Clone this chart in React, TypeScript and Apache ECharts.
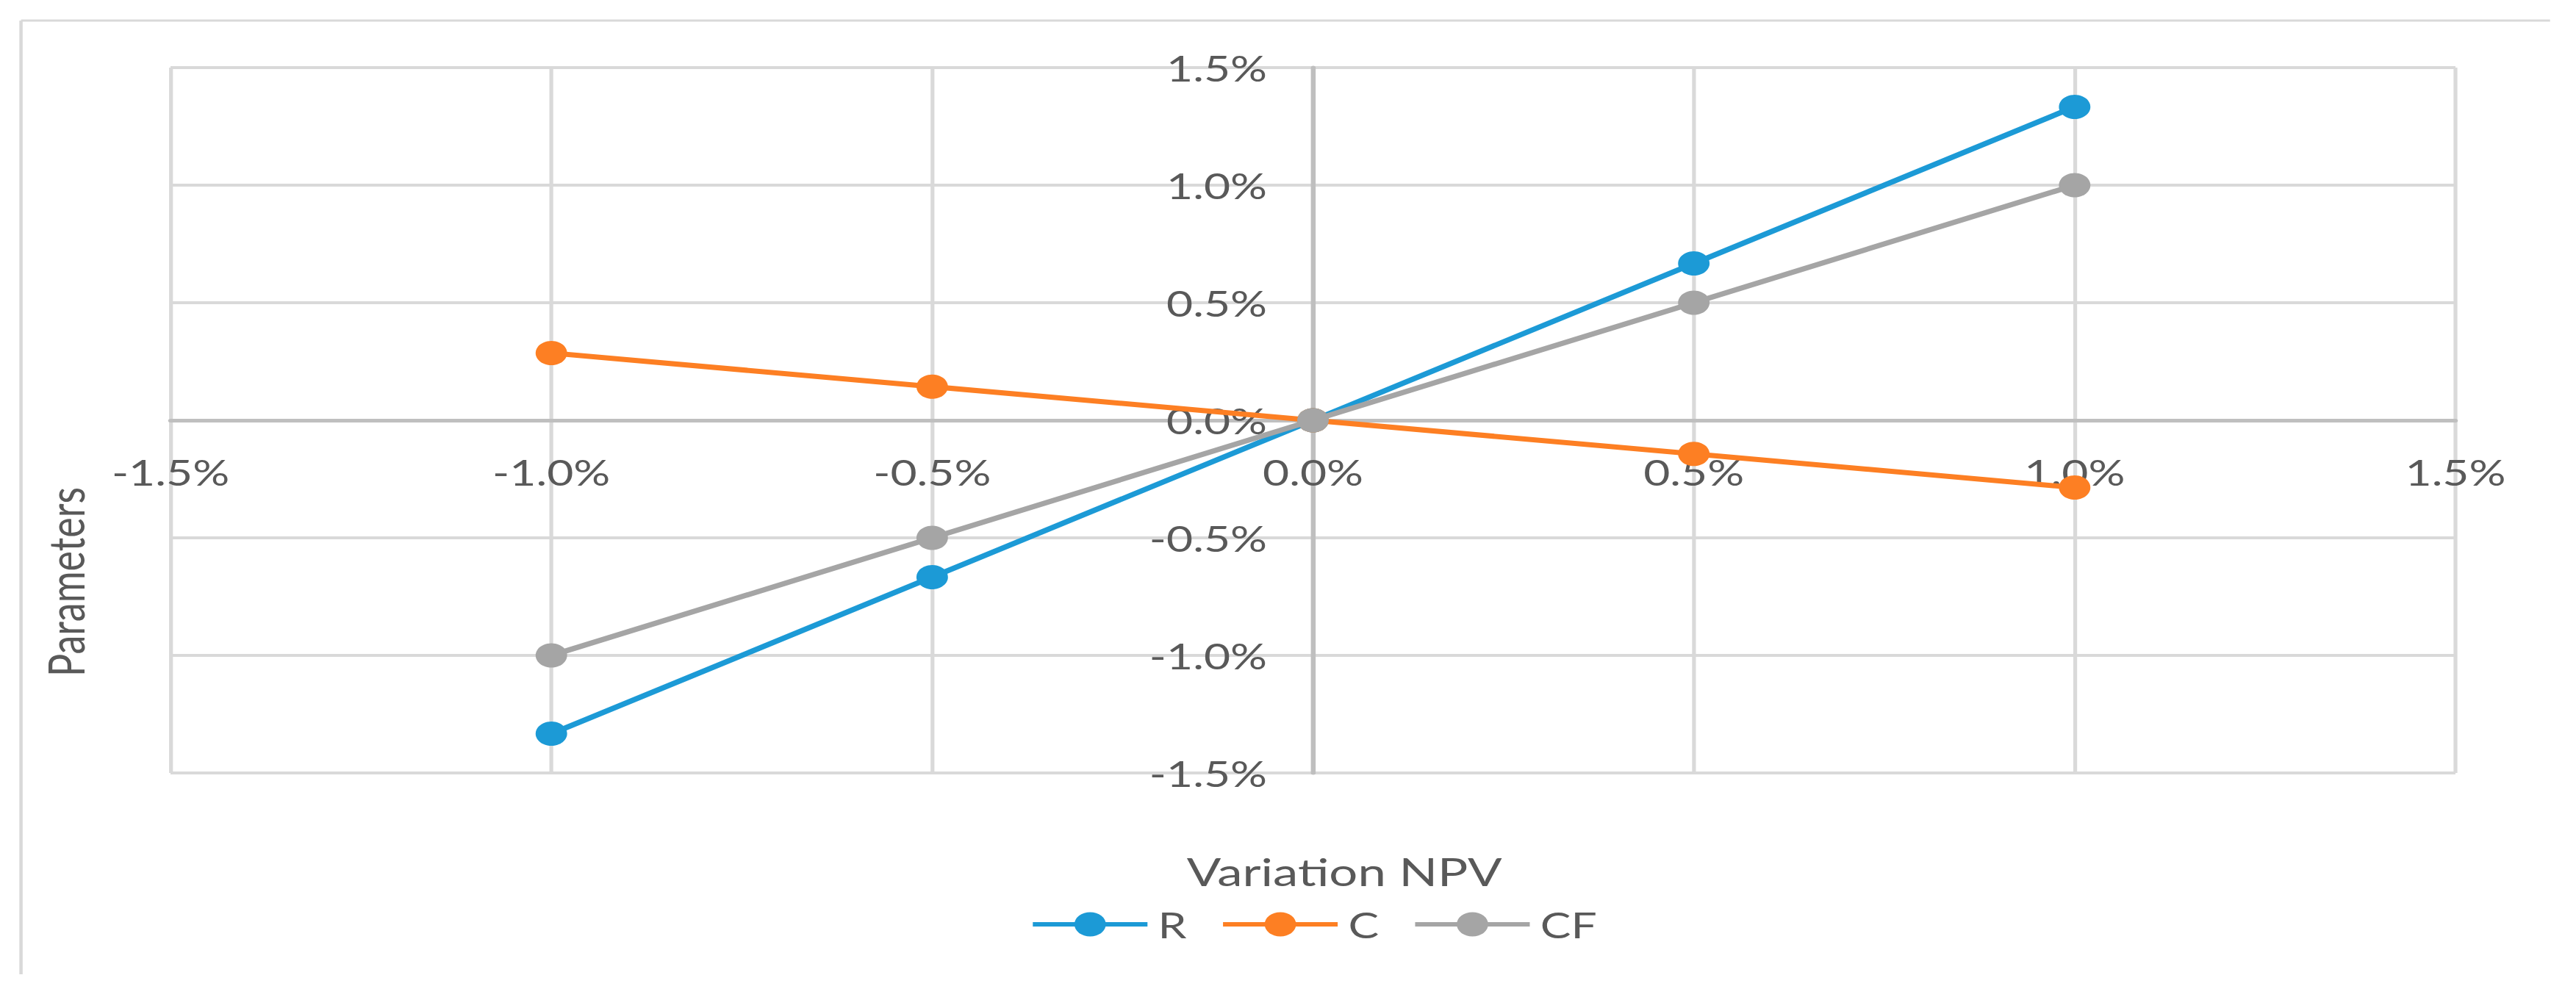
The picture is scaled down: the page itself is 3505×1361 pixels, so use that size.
import React, { useEffect, useRef } from "react";
import * as echarts from "echarts";

const xValues = [-1.0, -0.5, 0.0, 0.5, 1.0];
const seriesR = [-1.333, -0.667, 0.0, 0.667, 1.333];
const seriesC = [0.286, 0.143, 0.0, -0.143, -0.286];
const seriesCF = [-1.0, -0.5, 0.0, 0.5, 1.0];
const seriesNames = ["R", "C", "CF"];
const seriesColors = ["#1c9ad6", "#fd7f23", "#a5a5a5"];
const axisMin = -1.5;
const axisMax = 1.5;
const axisStep = 0.5;
const xTitle = "Variation NPV";
const yTitle = "Parameters";

const STRETCH = 1.3;
const W = 2696;
const H = 1361;
const FONT = "Lato, 'Noto Sans', sans-serif";
const TEXT = "#595959";

const GRID_LEFT = 178.5;
const GRID_RIGHT = 126;
const GRID_TOP = 92;
const GRID_BOTTOM = 309;

function pct(v: number) {
  const r = Math.round(v * 10) / 10;
  return (r === 0 ? 0 : r).toFixed(1) + "%";
}

const LEGEND_ICON =
  "path://M0,13.5 H120 V19.5 H0 Z M43.5,16.5 A16.5,16.5 0 1,1 76.5,16.5 A16.5,16.5 0 1,1 43.5,16.5 Z";

export default function App() {
  const ref = useRef<HTMLDivElement>(null);
  useEffect(() => {
    if (!ref.current) return;
    const chart = echarts.init(ref.current, null, { renderer: "svg" });
    const all = [seriesR, seriesC, seriesCF];
    const plotW = W - GRID_LEFT - GRID_RIGHT;
    const plotH = H - GRID_TOP - GRID_BOTTOM;
    // move the axes onto the zero lines (as in the reference)
    const xOffset = -plotH * ((0 - axisMin) / (axisMax - axisMin));
    const yOffset = -plotW * ((0 - axisMin) / (axisMax - axisMin));
    chart.setOption({
      animation: false,
      backgroundColor: "#ffffff",
      grid: { left: GRID_LEFT, right: GRID_RIGHT, top: GRID_TOP, bottom: GRID_BOTTOM, containLabel: false },
      xAxis: {
        type: "value",
        min: axisMin,
        max: axisMax,
        interval: axisStep,
        position: "bottom",
        offset: xOffset,
        axisLine: { onZero: false, lineStyle: { color: "#bfbfbf", width: 5 } },
        axisTick: { show: false },
        splitLine: { show: true, lineStyle: { color: "#d9d9d9", width: 4 } },
        axisLabel: { color: TEXT, fontSize: 48, fontFamily: FONT, margin: 46, formatter: pct },
      },
      yAxis: {
        type: "value",
        min: axisMin,
        max: axisMax,
        interval: axisStep,
        position: "left",
        offset: yOffset,
        axisLine: { onZero: false, lineStyle: { color: "#bfbfbf", width: 5 } },
        axisTick: { show: false },
        splitLine: { show: true, lineStyle: { color: "#d9d9d9", width: 4 } },
        axisLabel: { color: TEXT, fontSize: 48, fontFamily: FONT, margin: 48, formatter: pct },
      },
      legend: {
        left: 1076,
        top: 1229,
        itemWidth: 120,
        itemHeight: 33,
        itemGap: 38,
        icon: LEGEND_ICON,
        textStyle: { color: TEXT, fontSize: 48, fontFamily: FONT, padding: [0, 0, 0, 6] },
        data: seriesNames,
      },
      series: seriesNames.map((name, i) => ({
        name,
        type: "line",
        data: xValues.map((x, j) => [x, all[i][j]]),
        symbol: "circle",
        symbolSize: 33,
        lineStyle: { color: seriesColors[i], width: 7 },
        itemStyle: { color: seriesColors[i] },
        z: 3 + i,
      })),
      graphic: [
        {
          type: "line",
          shape: { x1: 22, y1: 28, x2: 2669, y2: 28 },
          style: { stroke: "#d9d9d9", lineWidth: 3 },
          silent: true,
        },
        {
          type: "line",
          shape: { x1: 22, y1: 28, x2: 22, y2: 1326 },
          style: { stroke: "#d9d9d9", lineWidth: 3.5 },
          silent: true,
        },
        {
          type: "text",
          x: 1407,
          y: 1185,
          style: {
            text: xTitle,
            fill: TEXT,
            fontSize: 53,
            fontFamily: FONT,
            textAlign: "center",
            textVerticalAlign: "middle",
          },
        },
        {
          type: "text",
          x: 68,
          y: 792,
          rotation: Math.PI / 2,
          style: {
            text: yTitle,
            fill: TEXT,
            fontSize: 52,
            fontFamily: FONT,
            textAlign: "center",
            textVerticalAlign: "middle",
          },
        },
      ],
    });
    return () => chart.dispose();
  }, []);

  return (
    <div
      style={{
        position: "absolute",
        left: 0,
        top: 0,
        width: W,
        height: H,
        transform: `scaleX(${STRETCH})`,
        transformOrigin: "0 0",
        background: "#ffffff",
      }}
    >
      <div ref={ref} style={{ width: W, height: H }} />
    </div>
  );
}
